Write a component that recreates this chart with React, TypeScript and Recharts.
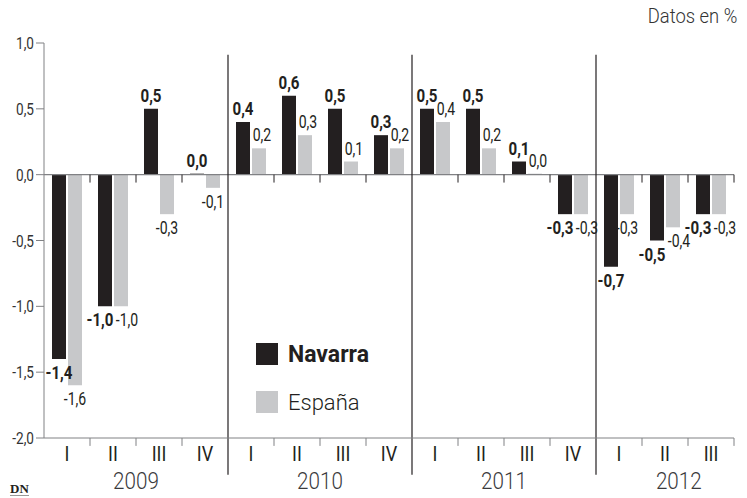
import { BarChart, Bar, XAxis, YAxis, ReferenceLine, LabelList, Legend } from 'recharts';

const quarters = ['I', 'II', 'III', 'IV', 'I', 'II', 'III', 'IV', 'I', 'II', 'III', 'IV', 'I', 'II', 'III'];
const navarra = [-1.4, -1.0, 0.5, 0.0, 0.4, 0.6, 0.5, 0.3, 0.5, 0.5, 0.1, -0.3, -0.7, -0.5, -0.3];
const espana = [-1.6, -1.0, -0.3, -0.1, 0.2, 0.3, 0.1, 0.2, 0.4, 0.2, 0.0, -0.3, -0.3, -0.4, -0.3];
const years = ['2009', '2010', '2011', '2012'];
const yearCenters = [1.5, 5.5, 9.5, 13.3];
const yearBreaks = [3.5, 7.5, 11.5];
const yTicks = [-2, -1.5, -1, -0.5, 0, 0.5, 1];

const FONT = "Roboto, 'DejaVu Sans Condensed', sans-serif";
const DARK = '#231f20';
const LIGHT = '#c7c8ca';
const AXIS = '#808184';

const data = quarters.map((q, i) => ({ idx: i, q, navarra: navarra[i], espana: espana[i] }));

// boundaries between quarters (year breaks get the long black line instead)
const quarterEdges = quarters
  .map((_, i) => i + 0.5)
  .filter((b) => !yearBreaks.includes(b));

const fmt = (v: number) => v.toFixed(1).replace('.', ',');

// condensed look: squeeze the text horizontally around its anchor
const NarrowText = ({ x, y, sx = 0.85, children, ...rest }: any) => (
  <text transform={`translate(${x},${y}) scale(${sx},1)`} x={0} y={0} fontFamily={FONT} {...rest}>
    {children}
  </text>
);

// both bars negative and close together -> push the two labels apart
const clash = (i: number) =>
  navarra[i] < 0 && espana[i] < 0 && Math.abs(navarra[i] - espana[i]) < 0.15;

const makeLabel = (series: 'navarra' | 'espana') => (props: any) => {
  const { x, y, width, height, value, index } = props;
  const top = Math.min(Number(y), Number(y) + Number(height));
  const bottom = Math.max(Number(y), Number(y) + Number(height));
  let cx = Number(x) + Number(width) / 2;
  const bold = series === 'navarra';
  if (clash(index)) cx += bold ? -5 : 6;
  else if (!bold && value >= 0) cx += 3;
  const ty = value >= 0 ? top - 7 : bottom + 20;
  return (
    <NarrowText
      x={cx}
      y={ty}
      sx={bold ? 0.84 : 0.78}
      textAnchor="middle"
      fontWeight={bold ? 700 : 400}
      fontSize={18}
      fill={DARK}
    >
      {fmt(value)}
    </NarrowText>
  );
};

const QuarterTick = ({ x, y, payload }: any) => (
  <NarrowText x={x} y={y + 15} sx={0.9} textAnchor="middle" fontSize={20} fill={DARK}>
    {quarters[payload.value]}
  </NarrowText>
);

const YearTick = ({ x, y, payload }: any) => (
  <NarrowText x={x} y={y + 15} sx={0.86} textAnchor="middle" fontSize={24} fontWeight={300} fill="#3a3a3c">
    {years[yearCenters.indexOf(payload.value)]}
  </NarrowText>
);

const YTick = ({ x, y, payload }: any) => (
  <NarrowText x={x} y={y + 6} sx={0.8} textAnchor="end" fontSize={17} fill="#333">
    {fmt(payload.value)}
  </NarrowText>
);

const renderLegend = () => (
  <div style={{ fontFamily: FONT, color: DARK }}>
    <div style={{ display: 'flex', alignItems: 'center', height: 22 }}>
      <span style={{ width: 22, height: 22, background: DARK, display: 'inline-block' }} />
      <span style={{ marginLeft: 10, fontSize: 23, fontWeight: 700 }}>Navarra</span>
    </div>
    <div style={{ display: 'flex', alignItems: 'center', height: 22, marginTop: 26 }}>
      <span style={{ width: 22, height: 22, background: LIGHT, display: 'inline-block' }} />
      <span style={{ marginLeft: 10, fontSize: 22, fontWeight: 300 }}>España</span>
    </div>
  </div>
);

export default function App() {
  return (
    <div style={{ position: 'absolute', left: 0, top: 0, width: 747, height: 498, background: '#fff' }}>
      <div
        style={{
          position: 'absolute',
          right: 10,
          top: 4,
          fontFamily: FONT,
          fontSize: 20,
          fontWeight: 300,
          color: '#333',
          transform: 'scaleX(0.92)',
          transformOrigin: 'right top',
        }}
      >
        Datos en %
      </div>
      <BarChart
        width={747}
        height={498}
        data={data}
        margin={{ top: 43, right: 13, left: 0, bottom: 0 }}
        barGap={2}
        barSize={14}
      >
        <XAxis
          dataKey="idx"
          type="number"
          domain={[-0.5, 14.5]}
          ticks={quarters.map((_, i) => i)}
          interval={0}
          height={28}
          axisLine={{ stroke: AXIS }}
          tickLine={false}
          tick={<QuarterTick />}
        />
        <XAxis
          xAxisId="year"
          dataKey="idx"
          type="number"
          domain={[-0.5, 14.5]}
          ticks={yearCenters}
          interval={0}
          height={32}
          axisLine={false}
          tickLine={false}
          tick={<YearTick />}
        />
        <YAxis
          domain={[-2, 1]}
          ticks={yTicks}
          width={44}
          interval={0}
          tickSize={8}
          tickMargin={2}
          axisLine={{ stroke: AXIS }}
          tickLine={{ stroke: AXIS }}
          tick={<YTick />}
        />
        <ReferenceLine y={0} stroke={AXIS} strokeWidth={1.2} />
        {quarterEdges.map((b) => (
          <ReferenceLine
            key={`z${b}`}
            segment={[{ x: b, y: 0 }, { x: b, y: -0.06 }]}
            stroke={DARK}
            ifOverflow="visible"
          />
        ))}
        {quarterEdges.map((b) => (
          <ReferenceLine
            key={`b${b}`}
            segment={[{ x: b, y: -2 }, { x: b, y: -2.06 }]}
            stroke={AXIS}
            ifOverflow="visible"
          />
        ))}
        {yearBreaks.map((b) => (
          <ReferenceLine
            key={`y${b}`}
            segment={[{ x: b, y: 0.91 }, { x: b, y: -2.28 }]}
            stroke={DARK}
            strokeWidth={1.2}
            ifOverflow="visible"
          />
        ))}
        <Legend
          content={renderLegend}
          layout="horizontal"
          verticalAlign="middle"
          align="center"
          wrapperStyle={{ top: 343, left: 256, width: 'auto' }}
        />
        <Bar dataKey="navarra" name="Navarra" fill={DARK} minPointSize={1} isAnimationActive={false}>
          <LabelList dataKey="navarra" content={makeLabel('navarra')} />
        </Bar>
        <Bar dataKey="espana" name="España" fill={LIGHT} minPointSize={1} isAnimationActive={false}>
          <LabelList dataKey="espana" content={makeLabel('espana')} />
        </Bar>
      </BarChart>
      <div
        style={{
          position: 'absolute',
          left: 10,
          top: 482,
          fontFamily: "'Liberation Serif', 'DejaVu Serif', serif",
          fontWeight: 700,
          fontSize: 13,
          color: DARK,
          borderBottom: '1px solid #999',
          lineHeight: '13px',
        }}
      >
        DN
      </div>
    </div>
  );
}
